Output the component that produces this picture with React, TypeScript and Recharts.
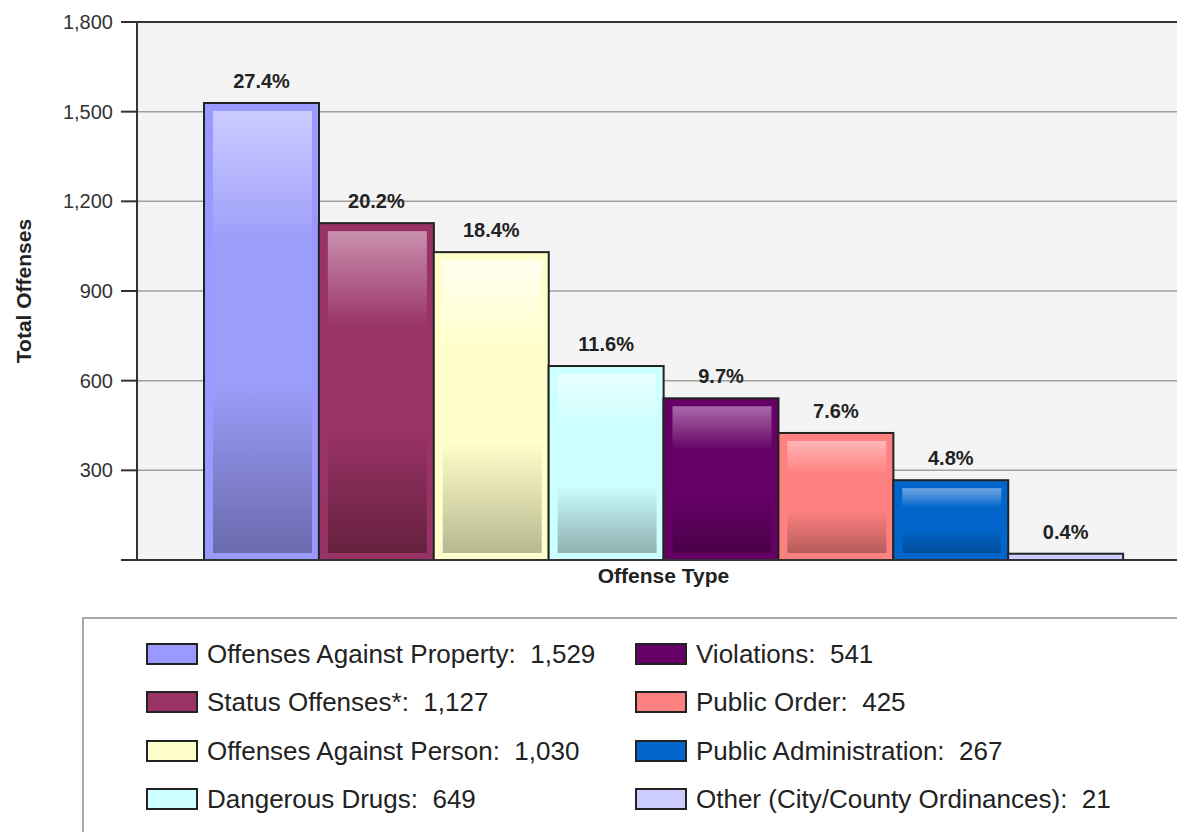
import React from "react";
import {
  BarChart,
  Bar,
  XAxis,
  YAxis,
  CartesianGrid,
  ReferenceLine,
  LabelList,
  Label,
} from "recharts";

const categories = [
  "Offenses Against Property",
  "Status Offenses*",
  "Offenses Against Person",
  "Dangerous Drugs",
  "Violations",
  "Public Order",
  "Public Administration",
  "Other (City/County Ordinances)",
];
const values = [1529, 1127, 1030, 649, 541, 425, 267, 21];
const percents = ["27.4%", "20.2%", "18.4%", "11.6%", "9.7%", "7.6%", "4.8%", "0.4%"];
const yTicks = [0, 300, 600, 900, 1200, 1500, 1800];

// base colour + gradient (top, middle, bottom) of the inner panel
const COLORS = ["#9999ff", "#993366", "#ffffcc", "#ccffff", "#660066", "#ff8080", "#0066cc", "#ccccff"];
const GRADS = [
  ["#cbcbff", "#9c9cfa", "#6a6aad"],
  ["#c990ae", "#993366", "#66213f"],
  ["#fffff0", "#ffffcc", "#b8b891"],
  ["#e8ffff", "#ccffff", "#8fb0b0"],
  ["#a86aa8", "#660066", "#480048"],
  ["#ffb6b6", "#ff8080", "#b65b5b"],
  ["#70a6e2", "#0066cc", "#004f9c"],
  ["#e0e0ff", "#ccccff", "#9a9ac0"],
];

const FONT = "'Liberation Sans', Arial, sans-serif";

const data = categories.map((name, i) => ({ name, value: values[i], pct: percents[i] }));

function fmt(v: number) {
  return v === 0 ? "" : v.toLocaleString("en-US");
}

function BarShape(props: any) {
  const { x, y, width, height, index } = props;
  const g = GRADS[index];
  const id = `barGrad${index}`;
  return (
    <g>
      <defs>
        <linearGradient id={id} x1="0" y1="0" x2="0" y2="1">
          <stop offset="0%" stopColor={g[0]} />
          <stop offset="30%" stopColor={g[1]} />
          <stop offset="62%" stopColor={g[1]} />
          <stop offset="100%" stopColor={g[2]} />
        </linearGradient>
      </defs>
      <rect x={x} y={y} width={width} height={height} fill={COLORS[index]} stroke="#222" strokeWidth={2} />
      {height > 20 && (
        <rect x={x + 9} y={y + 8} width={width - 16} height={height - 15} fill={`url(#${id})`} />
      )}
    </g>
  );
}

function Legend() {
  return (
    <div
      style={{
        position: "absolute",
        left: 82,
        top: 617,
        width: 1300,
        height: 400,
        border: "2px solid #a8a8a8",
        boxSizing: "border-box",
      }}
    >
      {categories.map((c, i) => {
        const col = Math.floor(i / 4);
        const row = i % 4;
        return (
          <div
            key={c}
            style={{
              position: "absolute",
              left: (col === 0 ? 146 : 635) - 84,
              top: 642 - 619 + row * 48.5,
              height: 23,
              display: "flex",
              alignItems: "center",
            }}
          >
            <div
              style={{
                width: 52,
                height: 22,
                boxSizing: "border-box",
                border: "2px solid #222",
                background: COLORS[i],
              }}
            />
            <span
              style={{
                marginLeft: 9,
                fontFamily: FONT,
                fontSize: 26,
                lineHeight: 1,
                color: "#222",
                whiteSpace: "pre",
              }}
            >
              {`${c}:  ${values[i].toLocaleString("en-US")}`}
            </span>
          </div>
        );
      })}
    </div>
  );
}

export default function App() {
  return (
    <div
      style={{
        position: "fixed",
        left: 0,
        top: 0,
        width: 1177,
        height: 832,
        overflow: "hidden",
        background: "#fff",
      }}
    >
      <div style={{ position: "absolute", left: 0, top: 0 }}>
        <BarChart
          width={1210}
          height={610}
          data={data}
          margin={{ top: 22, right: 20, bottom: 10, left: 0 }}
          barCategoryGap={0}
          style={{ fontFamily: FONT }}
        >
          <CartesianGrid vertical={false} fill="#f4f4f4" stroke="#a0a0a0" strokeWidth={1.5} />
          <XAxis
            dataKey="name"
            tick={false}
            tickLine={false}
            height={40}
            padding={{ left: 67, right: 67 }}
            axisLine={{ stroke: "#333", strokeWidth: 2 }}
          >
            <Label
              content={({ viewBox }: any) => (
                <text
                  x={viewBox.x + viewBox.width / 2}
                  y={viewBox.y + 23}
                  textAnchor="middle"
                  fontFamily={FONT}
                  fontSize={21}
                  fontWeight="bold"
                  fill="#222"
                >
                  Offense Type
                </text>
              )}
            />
          </XAxis>
          <YAxis
            width={137}
            domain={[0, 1800]}
            ticks={yTicks}
            interval={0}
            tickFormatter={fmt}
            tickSize={16}
            tickMargin={8}
            tick={{ fontSize: 20, fill: "#333", fontFamily: FONT }}
            axisLine={{ stroke: "#333", strokeWidth: 2 }}
            tickLine={{ stroke: "#333", strokeWidth: 2 }}
          >
            <Label
              content={({ viewBox }: any) => {
                const cx = viewBox.x + 23;
                const cy = viewBox.y + viewBox.height / 2;
                return (
                  <text
                    x={cx}
                    y={cy}
                    transform={`rotate(-90, ${cx}, ${cy})`}
                    textAnchor="middle"
                    dominantBaseline="central"
                    fontFamily={FONT}
                    fontSize={21}
                    fontWeight="bold"
                    fill="#222"
                  >
                    Total Offenses
                  </text>
                );
              }}
            />
          </YAxis>
          <ReferenceLine y={1800} stroke="#333" strokeWidth={2} />
          <Bar dataKey="value" shape={<BarShape />} isAnimationActive={false}>
            <LabelList
              dataKey="pct"
              position="top"
              offset={15}
              style={{ fontSize: 20, fontWeight: "bold", fill: "#222", fontFamily: FONT }}
            />
          </Bar>
        </BarChart>
      </div>
      <Legend />
    </div>
  );
}
